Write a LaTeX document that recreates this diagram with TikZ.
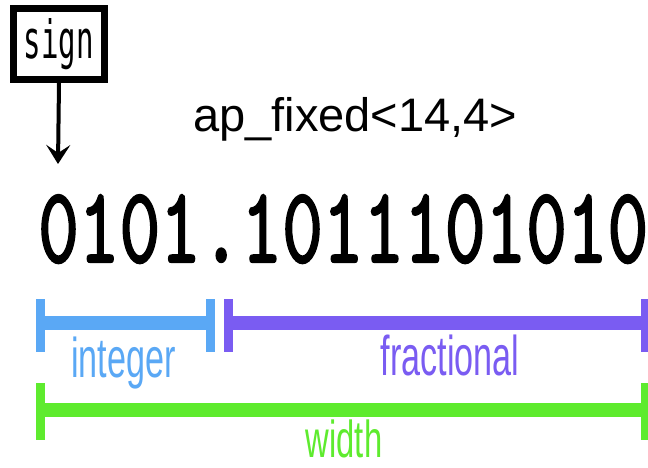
\documentclass[tikz,border=0pt]{standalone}
\usepackage{fontspec}
\setmainfont{Liberation Sans}
\newfontfamily\signfont{DejaVu Sans Mono}
\newfontfamily\binfont{Latin Modern Mono}[FakeBold=2.2]
\usetikzlibrary{arrows.meta}
\definecolor{intblue}{HTML}{5AA8F5}
\definecolor{fracpurple}{HTML}{7A5CF2}
\definecolor{widgreen}{HTML}{5EEB2E}
\begin{document}
\begin{tikzpicture}[x=1pt,y=-1pt,
  bar/.style={line width=14pt},
  tickmark/.style={line width=9pt},
  lbl/.style={inner sep=0pt, anchor=base},
]
\fill[white] (0,0) rectangle (648,468);
\useasboundingbox (0,0) rectangle (648,468);

% sign box and arrow
\node[draw, line width=7pt, minimum width=91pt, minimum height=71pt, inner sep=0pt] (sign) at (59,44)
  {\resizebox{70pt}{40pt}{\signfont sign}};
\coordinate (tip) at (58,164);
\draw[line width=4pt, -{Stealth[length=19pt,width=24pt,inset=8pt]}] (sign.south) -- (tip);

% title
\node[inner sep=0pt, anchor=base west] (title) at (193,132) {\fontsize{47}{47}\selectfont ap\_fixed<14,4>};

% binary number
\node[inner sep=0pt, anchor=base west] (bits) at (38,262)
  {\resizebox{610pt}{67pt}{\binfont 0101.1011101010}};

% integer bracket
\draw[bar, intblue] (40,323) -- (210,323);
\draw[tickmark, intblue] (40,299) -- (40,352);
\draw[tickmark, intblue] (210,299) -- (210,352);
\node[lbl, text=intblue] (int) at (123.5,377) {\scalebox{0.61}[1]{\fontsize{56}{56}\selectfont integer}};

% fractional bracket
\draw[bar, fracpurple] (228,323) -- (645,323);
\draw[tickmark, fracpurple] (228,299) -- (228,352);
\draw[tickmark, fracpurple] (645,299) -- (645,352);
\node[lbl, text=fracpurple] (frac) at (450,375) {\scalebox{0.61}[1]{\fontsize{56}{56}\selectfont fractional}};

% width bracket
\draw[bar, widgreen] (40,410) -- (645,410);
\draw[tickmark, widgreen] (40,383) -- (40,440);
\draw[tickmark, widgreen] (645,383) -- (645,440);
\node[lbl, text=widgreen] (wid) at (344,457) {\scalebox{0.63}[1]{\fontsize{52}{52}\selectfont width}};
\end{tikzpicture}
\end{document}
